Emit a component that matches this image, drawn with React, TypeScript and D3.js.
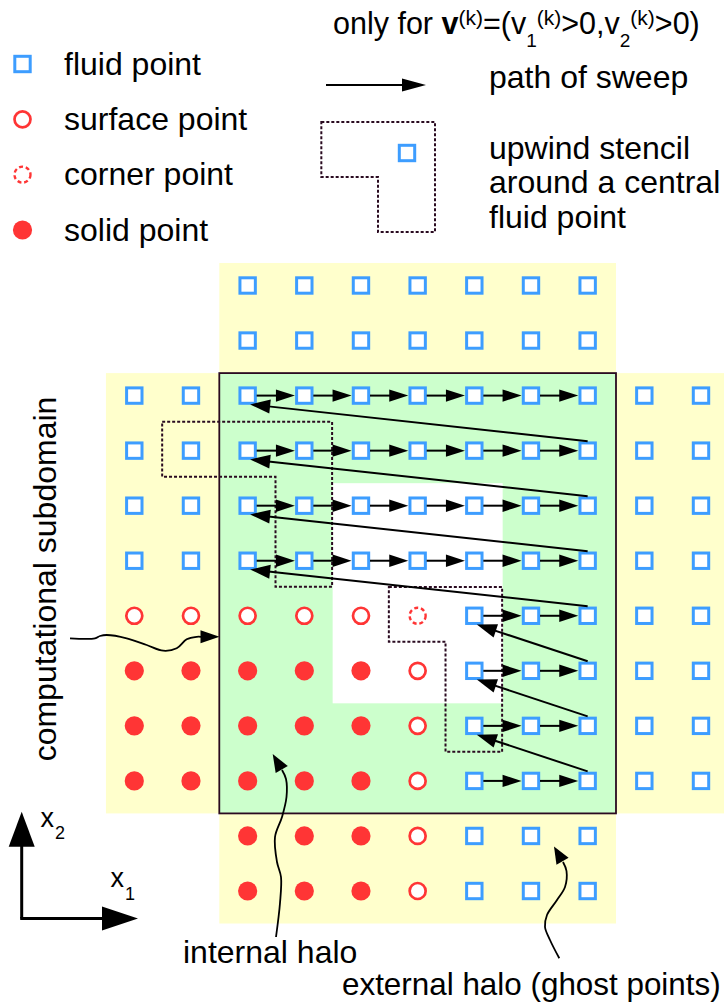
import React from "react";
import * as d3 from "d3";

const FONT = "'Liberation Sans', Arial, Helvetica, sans-serif";
const BLUE = "#3d9dff";
const RED = "#ff3535";
const YELLOW = "#ffffcc";
const GREEN = "#ccffcc";
const DARK = "#2a0a20";

// grid: 11 columns x 12 rows. F = fluid, S = surface, C = corner, B = solid
const gridRows = [
  "  FFFFFFF  ",
  "  FFFFFFF  ",
  "FFFFFFFFFFF",
  "FFFFFFFFFFF",
  "FFFFFFFFFFF",
  "FFFFFFFFFFF",
  "SSSSSCFFFFF",
  "BBBBBSFFFFF",
  "BBBBBSFFFFF",
  "BBBBBSFFFFF",
  "  BBBSFFF  ",
  "  BBBSFFF  ",
];

const regions = [
  { kind: "yellow", c0: 2, c1: 8, r0: 0, r1: 1 },
  { kind: "yellow", c0: 0, c1: 10, r0: 2, r1: 9 },
  { kind: "yellow", c0: 2, c1: 8, r0: 10, r1: 11 },
  { kind: "green", c0: 2, c1: 8, r0: 2, r1: 9 },
  { kind: "white", c0: 4, c1: 6, r0: 4, r1: 7 },
];

// sweep rows, in sweep order (bottom to top)
const sweepRows = [
  { row: 9, c0: 6, c1: 8 },
  { row: 8, c0: 6, c1: 8 },
  { row: 7, c0: 6, c1: 8 },
  { row: 6, c0: 6, c1: 8 },
  { row: 5, c0: 2, c1: 8 },
  { row: 4, c0: 2, c1: 8 },
  { row: 3, c0: 2, c1: 8 },
  { row: 2, c0: 2, c1: 8 },
];

const stencils = [
  { c0: 1, c1: 3, r0: 3, r1: 5 },
  { c0: 5, c1: 6, r0: 6, r1: 8 },
];

const legendItems = [
  { kind: "F", label: "fluid point" },
  { kind: "S", label: "surface point" },
  { kind: "C", label: "corner point" },
  { kind: "B", label: "solid point" },
];

const upwindLines = ["upwind stencil", "around a central", "fluid point"];

const subdomainCurve: [number, number][] = [
  [70, 638.3], [95, 638.3], [100, 636], [106.7, 635], [126.7, 638.3], [146.7, 645],
  [163.3, 650.7], [176.7, 648.3], [186.7, 639.3], [196.7, 636.8], [201, 636.8],
];
const subdomainTip: [number, number] = [219.5, 636.8];

const internalCurve: [number, number][] = [
  [276, 937], [280, 903], [281, 877], [277, 862], [275, 837], [282, 817], [286.5, 797], [286, 779], [282, 770],
];
const internalTip: [number, number] = [272.7, 754];

const externalCurve: [number, number][] = [
  [559.3, 958.3], [550, 940], [545, 927], [547, 915], [557, 900], [565, 887], [566.5, 871], [563, 862],
];
const externalTip: [number, number] = [554, 846.5];

const x = d3.scaleLinear().domain([0, 10]).range([134.3, 701]);
const y = d3.scaleLinear().domain([0, 11]).range([285.5, 891]);
const halfW = (x(1) - x(0)) / 2;
const cellTop = 22.5;
const cellBot = 32.5;

function headPath(tip: [number, number], from: [number, number], L: number, W: number) {
  const dx = tip[0] - from[0];
  const dy = tip[1] - from[1];
  const len = Math.hypot(dx, dy) || 1;
  const ux = dx / len, uy = dy / len;
  const bx = tip[0] - ux * L, by = tip[1] - uy * L;
  const nx = -uy, ny = ux;
  const p = d3.path();
  p.moveTo(tip[0], tip[1]);
  p.lineTo(bx + nx * W, by + ny * W);
  p.lineTo(bx - nx * W, by - ny * W);
  p.closePath();
  return p.toString();
}

function Arrow({ from, tip, L = 19, W = 6.3, sw = 2 }: { from: [number, number]; tip: [number, number]; L?: number; W?: number; sw?: number }) {
  const dx = tip[0] - from[0];
  const dy = tip[1] - from[1];
  const len = Math.hypot(dx, dy) || 1;
  const end: [number, number] = [tip[0] - (dx / len) * L * 0.8, tip[1] - (dy / len) * L * 0.8];
  return (
    <g>
      <line x1={from[0]} y1={from[1]} x2={end[0]} y2={end[1]} stroke="#000" strokeWidth={sw} />
      <path d={headPath(tip, from, L, W)} fill="#000" />
    </g>
  );
}

function CurvyArrow({ pts, tip, L, W }: { pts: [number, number][]; tip: [number, number]; L: number; W: number }) {
  const line = d3.line<[number, number]>().curve(d3.curveCatmullRom.alpha(0.5));
  const last = pts[pts.length - 1];
  return (
    <g>
      <path d={line(pts) || ""} fill="none" stroke="#000" strokeWidth={1.8} />
      <path d={headPath(tip, last, L, W)} fill="#000" />
    </g>
  );
}

function Marker({ kind, cx, cy }: { kind: string; cx: number; cy: number }) {
  if (kind === "F")
    return <rect x={cx - 7.7} y={cy - 7.7} width={15.4} height={15.4} fill="#fff" stroke={BLUE} strokeWidth={3} />;
  if (kind === "S") return <circle cx={cx} cy={cy} r={8} fill="#fff" stroke={RED} strokeWidth={2.7} />;
  if (kind === "C")
    return <circle cx={cx} cy={cy} r={8} fill="#fff" stroke={RED} strokeWidth={2.4} strokeDasharray="4 2.8" />;
  return <circle cx={cx} cy={cy} r={9.6} fill={RED} />;
}

function stencilPath(c0: number, c1: number, r0: number, r1: number, top: number, bot: number, left: number, right: number) {
  const p = d3.path();
  p.moveTo(x(c0) - left, y(r0) - top);
  p.lineTo(x(c1) + right, y(r0) - top);
  p.lineTo(x(c1) + right, y(r1) + bot);
  p.lineTo(x(c1) - left, y(r1) + bot);
  p.lineTo(x(c1) - left, y(r0) + bot);
  p.lineTo(x(c0) - left, y(r0) + bot);
  p.closePath();
  return p.toString();
}

const FS = 32;

export default function App() {
  const fills: Record<string, string> = { yellow: YELLOW, green: GREEN, white: "#fff" };
  const legendY = d3.scaleLinear().domain([0, 3]).range([64, 230]);

  // legend stencil: same shape, central point at (407,153)
  const lsx = 407, lsy = 153;
  const lp = d3.path();
  lp.moveTo(lsx - 2 * halfW - 29, lsy - 31);
  lp.lineTo(lsx + 28, lsy - 31);
  lp.lineTo(lsx + 28, lsy + 55 + 24);
  lp.lineTo(lsx - 29, lsy + 55 + 24);
  lp.lineTo(lsx - 29, lsy + 24);
  lp.lineTo(lsx - 2 * halfW - 29, lsy + 24);
  lp.closePath();

  const sweepArrows: React.ReactNode[] = [];
  sweepRows.forEach((s, i) => {
    for (let c = s.c0; c < s.c1; c++) {
      sweepArrows.push(
        <Arrow key={`h${s.row}-${c}`} from={[x(c) + 9, y(s.row)]} tip={[x(c + 1) - 9.4, y(s.row)]} L={19} W={6.2} />
      );
    }
    const next = sweepRows[i + 1];
    if (next) {
      sweepArrows.push(
        <Arrow
          key={`r${s.row}`}
          from={[x(s.c1), y(s.row) - 9.5]}
          tip={[x(next.c0) + 2.5, y(next.row) + 8.8]}
          L={20}
          W={7}
        />
      );
    }
  });

  const stencilStyle = { fill: "none", stroke: DARK, strokeWidth: 2, strokeDasharray: "3 2" };

  return (
    <svg
      width={724}
      height={1007}
      viewBox="0 0 724 1007"
      style={{ position: "absolute", left: 0, top: 0, background: "#fff" }}
      fontFamily={FONT}
    >
      <rect x={0} y={0} width={724} height={1007} fill="#fff" />
      {regions.map((r, i) => (
        <rect
          key={i}
          x={x(r.c0) - halfW}
          y={y(r.r0) - cellTop}
          width={x(r.c1) - x(r.c0) + 2 * halfW}
          height={y(r.r1) - y(r.r0) + cellTop + cellBot}
          fill={fills[r.kind]}
        />
      ))}
      {/* green subdomain border */}
      <rect
        x={x(2) - halfW}
        y={y(2) - cellTop}
        width={x(8) - x(2) + 2 * halfW}
        height={y(9) - y(2) + cellTop + cellBot}
        fill="none"
        stroke={DARK}
        strokeWidth={1.8}
      />

      {/* stencils in grid */}
      {stencils.map((s, i) => (
        <path key={i} d={stencilPath(s.c0, s.c1, s.r0, s.r1, 28.8, 26, 28.8, 27.8)} {...stencilStyle} />
      ))}

      {/* grid markers */}
      {gridRows.map((row, r) =>
        row.split("").map((k, c) => (k === " " ? null : <Marker key={`${r}-${c}`} kind={k} cx={x(c)} cy={y(r)} />))
      )}

      {sweepArrows}

      {/* legend */}
      {legendItems.map((it, i) => (
        <g key={it.label}>
          <Marker kind={it.kind} cx={22.5} cy={legendY(i)} />
          <text x={64} y={legendY(i) + 10.5} fontSize={FS} fill="#000">
            {it.label}
          </text>
        </g>
      ))}

      <text x={333} y={33.5} fontSize={30.5} fill="#000">
        only for <tspan fontWeight="bold">v</tspan>
        <tspan fontSize={21} dy={-9}>(k)</tspan>
        <tspan dy={9}>=(v</tspan>
        <tspan fontSize={19} dy={13}>1</tspan>
        <tspan fontSize={21} dy={-22}>(k)</tspan>
        <tspan dy={9}>&gt;0,v</tspan>
        <tspan fontSize={19} dy={13}>2</tspan>
        <tspan fontSize={21} dy={-22}>(k)</tspan>
        <tspan dy={9}>&gt;0)</tspan>
      </text>

      <Arrow from={[326, 85]} tip={[426, 85]} L={24} W={6.6} sw={2} />
      <text x={489} y={88} fontSize={FS} fill="#000">
        path of sweep
      </text>

      <path d={lp.toString()} {...stencilStyle} />
      <Marker kind="F" cx={lsx} cy={lsy} />
      {upwindLines.map((t, i) => (
        <text key={t} x={489} y={158.5 + i * 34.5} fontSize={FS} fill="#000">
          {t}
        </text>
      ))}

      {/* left label */}
      <text transform="translate(56,579) rotate(-90)" textAnchor="middle" fontSize={FS} fill="#000">
        computational subdomain
      </text>
      <CurvyArrow pts={subdomainCurve} tip={subdomainTip} L={19} W={6.5} />

      <CurvyArrow pts={internalCurve} tip={internalTip} L={18} W={7} />
      <text x={183} y={963} fontSize={FS} fill="#000">
        internal halo
      </text>

      <CurvyArrow pts={externalCurve} tip={externalTip} L={17} W={7} />
      <text x={342} y={995} fontSize={31.4} fill="#000">
        external halo (ghost points)
      </text>

      {/* axes */}
      <Arrow from={[21.7, 918.5]} tip={[21.7, 811.7]} L={35} W={13} sw={3} />
      <Arrow from={[20.2, 918.5]} tip={[138, 918.5]} L={36} W={12} sw={3} />
      <text x={40.5} y={827} fontSize={27} fill="#000">
        x<tspan fontSize={18} dx={1} dy={12}>2</tspan>
      </text>
      <text x={110.5} y={887} fontSize={27} fill="#000">
        x<tspan fontSize={18} dx={1} dy={13}>1</tspan>
      </text>
    </svg>
  );
}
